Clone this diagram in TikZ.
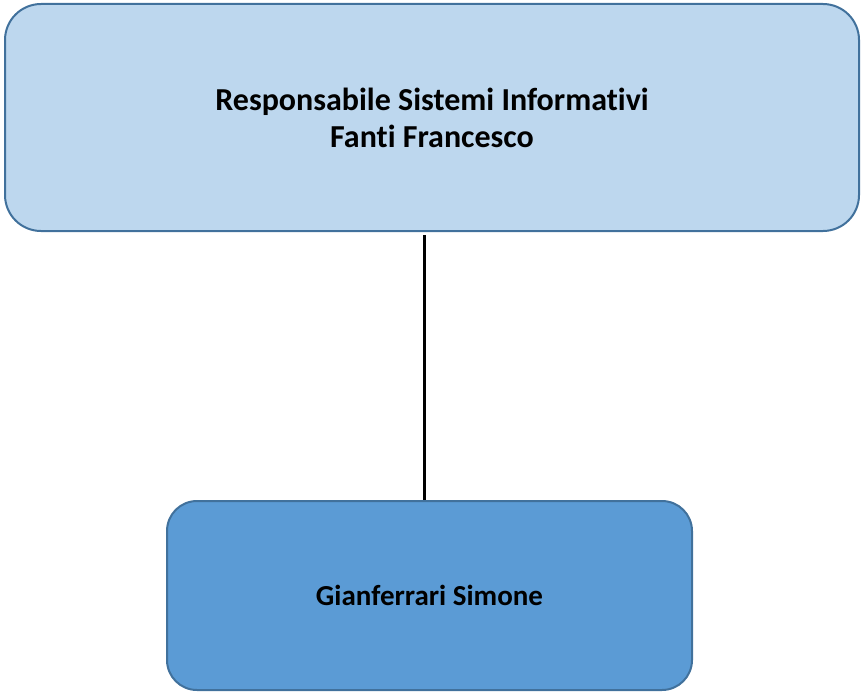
\documentclass[tikz,border=0pt]{standalone}
\usepackage{fontspec}
\setmainfont[Ligatures=NoCommon]{Carlito}
\usetikzlibrary{calc}

\definecolor{boxline}{HTML}{41719C}
\definecolor{headfill}{HTML}{BDD7EE}
\definecolor{staffill}{HTML}{5B9BD5}

\tikzset{
	orgbox/.style={draw=boxline, line width=2pt, align=center,
		font=\bfseries\fontsize{32}{37}\selectfont, inner sep=0pt},
}

\begin{document}
\begin{tikzpicture}[x=1pt, y=-1pt]
	\useasboundingbox (0,0) rectangle (861,693);
	
	% head of the office
	\node[orgbox, fill=headfill, rounded corners=36pt,
		minimum width=854pt, minimum height=227pt] (resp) at (432,117.5)
		{Responsabile Sistemi Informativi\\ Fanti Francesco};
	
	% staff
	\node[orgbox, fill=staffill, rounded corners=30pt,
		minimum width=525pt, minimum height=189pt,
		font=\bfseries\fontsize{29}{35}\selectfont] (gian) at (429.5,595.5)
		{Gianferrari Simone};
	
	% connector
	\coordinate (link) at (424,0);
	\draw[line width=3pt] ($(resp.south -| link)+(0,3)$) -- (gian.north -| link);
\end{tikzpicture}
\end{document}
